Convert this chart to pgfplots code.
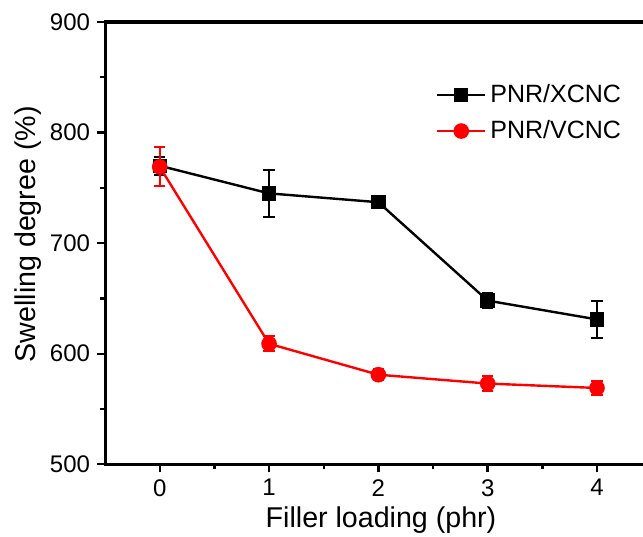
\documentclass[border=0pt]{standalone}
\usepackage{fontspec}
\setmainfont{Liberation Sans}
\usepackage{pgfplots}
\pgfplotsset{compat=1.18}
\begin{document}
\begin{tikzpicture}
\begin{axis}[
  scale only axis,
  width=270.4pt, height=221pt,
  xmin=-0.5, xmax=4.45,
  ymin=500, ymax=900,
  xtick={0,1,2,3,4},
  ytick={500,600,700,800,900},
  minor x tick num=1,
  minor y tick num=1,
  xtick pos=left, ytick pos=left,
  tick align=outside,
  major tick length=4pt,
  minor tick length=2.5pt,
  every tick/.style={black, line width=1.2pt},
  axis line style={line width=1.5pt},
  /pgf/number format/assume math mode=true,
  tick label style={font=\fontsize{12}{14}\selectfont},
  xlabel={Filler loading (phr)},
  ylabel={Swelling degree (\%)},
  label style={font=\fontsize{14.3}{16}\selectfont},
  xlabel style={at={(axis description cs:0.51,-0.127)}, anchor=center},
  ylabel style={at={(axis description cs:-0.142,0.52)}, anchor=center},
  legend style={at={(axis description cs:0.6,0.878)}, anchor=north west, draw=none, fill=none,
    font=\fontsize{12.5}{15}\selectfont, row sep=3.5pt},
  legend cell align=left,
  legend image code/.code={\draw[mark repeat=2,mark phase=2] plot coordinates {(0cm,0cm) (0.42cm,0cm) (0.84cm,0cm)};},
  clip=false,
]
\addplot[black, line width=1.2pt, mark=square*, mark size=3pt,
  error bars/.cd, y dir=both, y explicit,
  error bar style={line width=1pt},
  error mark options={rotate=90, mark size=2.8pt, line width=1pt}]
  coordinates {
  (0,770) +- (0,8)
  (1,745) +- (0,21)
  (2,737) +- (0,5.5)
  (3,648) +- (0,7)
  (4,631) +- (0,16.5)
};
\addlegendentry{PNR/XCNC}
\addplot[red, line width=1.2pt, mark=*, mark size=3.3pt,
  error bars/.cd, y dir=both, y explicit,
  error bar style={line width=1pt},
  error mark options={rotate=90, mark size=2.8pt, line width=1pt}]
  coordinates {
  (0,769) +- (0,17.5)
  (1,609) +- (0,7)
  (2,581) +- (0,5)
  (3,573) +- (0,7)
  (4,569) +- (0,6.5)
};
\addlegendentry{PNR/VCNC}
\end{axis}
\pgfresetboundingbox
\path[use as bounding box] ([xshift=-52.5pt,yshift=-36pt]current axis.south west) rectangle ([xshift=-1.6pt,yshift=11pt]current axis.north east);
\end{tikzpicture}
\end{document}
